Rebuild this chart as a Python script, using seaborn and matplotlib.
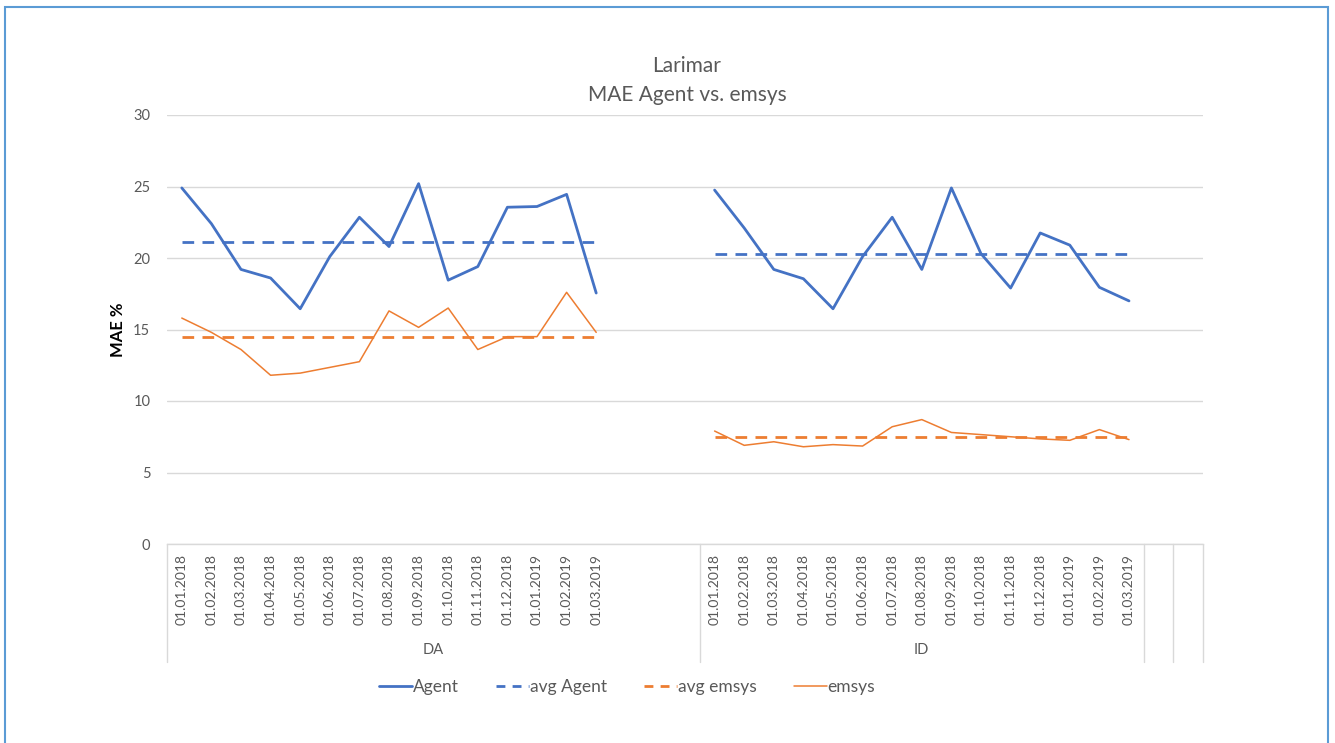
import numpy as np
import pandas as pd
import seaborn as sns
import matplotlib.pyplot as plt
from matplotlib.lines import Line2D
from matplotlib.patches import Rectangle
from matplotlib import transforms

# Data
dates = ['01.01.2018', '01.02.2018', '01.03.2018', '01.04.2018', '01.05.2018',
         '01.06.2018', '01.07.2018', '01.08.2018', '01.09.2018', '01.10.2018',
         '01.11.2018', '01.12.2018', '01.01.2019', '01.02.2019', '01.03.2019']
groups = ['DA', 'ID', '', '']
group_sizes = [18, 15, 1, 1]   # categories per group on the axis (DA has 3 empty slots)

agent_da = [24.9, 22.4, 19.2, 18.6, 16.45, 20.1, 22.85, 20.8, 25.2, 18.45,
            19.4, 23.55, 23.6, 24.45, 17.55]
emsys_da = [15.8, 14.8, 13.6, 11.8, 11.95, 12.35, 12.75, 16.3, 15.15, 16.5,
            13.6, 14.5, 14.5, 17.6, 14.8]
agent_id = [24.75, 22.1, 19.2, 18.55, 16.45, 20.1, 22.85, 19.2, 24.9, 20.3,
            17.9, 21.75, 20.9, 17.95, 17.0]
emsys_id = [7.9, 6.9, 7.15, 6.8, 6.95, 6.85, 8.2, 8.7, 7.8, 7.65,
            7.5, 7.35, 7.25, 8.0, 7.3]
avg_agent = [21.15, 20.3]
avg_emsys = [14.45, 7.5]

blue = '#4472C4'
orange = '#ED7D31'
grey_txt = '#595959'
grid_col = '#D9D9D9'

sns.set_theme(style='white')
plt.rcParams['font.family'] = ['Lato', 'DejaVu Sans']

fig = plt.figure(figsize=(13.35, 7.43), dpi=100, facecolor='white')
ax = fig.add_axes([167 / 1335, 1 - 544 / 743, (1203 - 167) / 1335, (544 - 115) / 743])

# positions of the categories
starts = np.concatenate([[0], np.cumsum(group_sizes)[:-1]])
n_cat = sum(group_sizes)

rows = []
for g, (start, ag, em, aa, ae) in enumerate(zip(starts[:2], [agent_da, agent_id],
                                                [emsys_da, emsys_id], avg_agent, avg_emsys)):
    pos = start + np.arange(len(dates))
    for i, p in enumerate(pos):
        rows.append({'pos': p, 'group': groups[g], 'Agent': ag[i], 'emsys': em[i],
                     'avg Agent': aa, 'avg emsys': ae})
df = pd.DataFrame(rows)

for grp, sub in df.groupby('group'):
    sns.lineplot(data=sub, x='pos', y='Agent', ax=ax, color=blue, linewidth=2.0)
    sns.lineplot(data=sub, x='pos', y='avg Agent', ax=ax, color=blue, linewidth=2.0,
                 linestyle=(0, (4.2, 3.0)))
    sns.lineplot(data=sub, x='pos', y='avg emsys', ax=ax, color=orange, linewidth=2.0,
                 linestyle=(0, (4.2, 3.0)))
    sns.lineplot(data=sub, x='pos', y='emsys', ax=ax, color=orange, linewidth=1.1)

ax.set_xlim(-0.5, n_cat - 0.5)
ax.set_ylim(0, 30)
ax.set_yticks(range(0, 31, 5))
ax.tick_params(axis='y', labelsize=10.5, labelcolor=grey_txt, pad=12, length=0)
ax.yaxis.grid(True, color=grid_col, linewidth=1.0)
ax.set_axisbelow(True)
for s in ['top', 'right', 'left']:
    ax.spines[s].set_visible(False)
ax.spines['bottom'].set_color(grid_col)
ax.spines['bottom'].set_linewidth(1.0)

# date tick labels
ax.set_xticks(df['pos'])
ax.set_xticklabels(list(dates) * 2, rotation=90, fontsize=10, color=grey_txt)
ax.tick_params(axis='x', length=0, pad=7)
ax.set_xlabel('')

ax.set_ylabel('MAE %', fontsize=12, fontweight='bold', color='black')
ax.yaxis.set_label_coords(-0.04, 0.5)

# group labels and separators
trans = transforms.blended_transform_factory(ax.transData, ax.transAxes)
bounds = np.concatenate([[0], np.cumsum(group_sizes)]) - 0.5
for b in bounds:
    ax.plot([b, b], [0, -0.275], transform=trans, color=grid_col, linewidth=1.0, clip_on=False)
for name, start, size in zip(groups, starts, group_sizes):
    if name:
        ax.text(start + (size - 1) / 2, -0.247, name, transform=trans, ha='center',
                va='center', fontsize=10.5, color=grey_txt)

# title
fig.text(687 / 1335, 1 - 66 / 743, 'Larimar', ha='center', va='center', fontsize=15, color=grey_txt)
fig.text(687 / 1335, 1 - 95 / 743, 'MAE Agent vs. emsys', ha='center', va='center',
         fontsize=15, color=grey_txt)

# legend
handles = [Line2D([], [], color=blue, linewidth=2.0),
           Line2D([], [], color=blue, linewidth=2.0, linestyle=(0, (3.2, 2.6))),
           Line2D([], [], color=orange, linewidth=2.0, linestyle=(0, (3.2, 2.6))),
           Line2D([], [], color=orange, linewidth=1.1)]
fig.legend(handles, ['Agent', 'avg Agent', 'avg emsys', 'emsys'], ncol=4, frameon=False,
           loc='center', bbox_to_anchor=(627 / 1335, 1 - 687 / 743), fontsize=12.5,
           labelcolor=grey_txt, handlelength=1.9, handletextpad=0.05, columnspacing=2.15)

# outer blue frame
fig.patches.append(Rectangle((5 / 1335, -0.05), (1328 - 5) / 1335, 1.05 - 7 / 743,
                             transform=fig.transFigure, fill=False, edgecolor='#5B9BD5',
                             linewidth=1.5))

fig.savefig('out.png', dpi=100, facecolor='white')
